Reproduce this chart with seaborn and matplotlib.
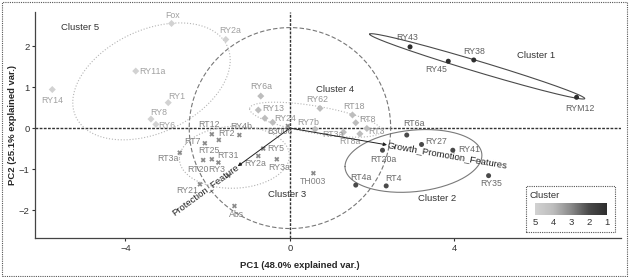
import numpy as np
import pandas as pd
import matplotlib
matplotlib.use('Agg')
import matplotlib.pyplot as plt
import matplotlib.font_manager as fm
import seaborn as sns
from matplotlib.colors import LinearSegmentedColormap
from matplotlib.patches import Rectangle

# PCA scores of the isolates and their k-means cluster
samples = ['RY43', 'RY45', 'RY38', 'RYM12',
           'RT6a', 'RY27', 'RY41', 'RT20a', 'RT4a', 'RT4', 'RY35',
           'RT12', 'RT2', 'RT7', 'RY4b', 'RT25', 'RT31', 'RT20', 'RY3', 'RY21', 'RT3a',
           'RY5', 'RY2a', 'RY3a', 'B3006', 'TH003', 'Abs',
           'RY6a', 'RY13', '', 'RY24', 'RY62', 'RY7b', 'RT18', 'RT8', 'RT3', 'RT3a', 'RT8a',
           'Fox', 'RY2a', 'RY11a', 'RY14', 'RY1', 'RY8', 'RY6']
pc1 = [2.92, 3.85, 4.47, 6.97,
       2.84, 3.20, 3.96, 2.25, 1.60, 2.34, 4.83,
       -1.90, -1.73, -2.07, -1.23, -1.90, -1.74, -2.11, -1.50, -2.19, -2.68,
       -0.65, -0.77, -0.32, -0.05, 0.57, -1.35,
       -0.71, -0.77, -0.61, -0.42, 0.73, 0.61, 1.52, 1.60, 1.87, 1.30, 1.70,
       -2.88, -1.56, -3.75, -5.78, -2.96, -3.38, -3.26]
pc2 = [1.98, 1.63, 1.66, 0.75,
       -0.17, -0.40, -0.54, -0.54, -1.39, -1.41, -1.16,
       -0.15, -0.29, -0.37, -0.17, -0.76, -0.84, -0.78, -1.16, -1.37, -0.60,
       -0.50, -0.68, -0.76, 0.05, -1.10, -1.90,
       0.78, 0.44, 0.24, 0.14, 0.48, -0.03, 0.32, 0.13, -0.01, -0.10, -0.14,
       2.55, 2.16, 1.39, 0.94, 0.62, 0.22, 0.09]
cluster = [1] * 4 + [2] * 7 + [3] * 16 + [4] * 11 + [5] * 7

# variable loadings (arrows)
variables = ['Protection_Feature', 'Growth_Promotion_Features']
var_pc1 = [-1.27, 2.36]
var_pc2 = [-0.93, -0.41]

cluster_ids = [1, 2, 3, 4, 5]
cluster_names = ['Cluster 1', 'Cluster 2', 'Cluster 3', 'Cluster 4', 'Cluster 5']

# label placement (pixels from the point) -- layout only
label_offsets = [(-3, 9), (-12, -8), (0, 8), (3, -11),
                 (7, 12), (15, 3), (16, 1), (1, -9), (5, 8), (7, 7), (3, -8),
                 (-3, 10), (8, 6), (-12, 2), (2, 9), (-3, 9), (10, 7), (-5, -9), (-12, 6), (-13, -6), (-12, -6),
                 (13, 0), (-3, -8), (2, -8), (-8, -5), (0, -8), (2, -8),
                 (0, 10), (15, 2), (0, 0), (12, 4), (-3, 9), (-7, 7), (2, 8), (12, 3), (10, -3), (-10, -2), (-10, -8),
                 (1, 8), (4, 9), (17, 0), (0, -11), (9, 6), (8, 7), (11, -1)]
cluster_text_pos = [(5.99, 1.76), (3.57, -1.71), (-0.08, -1.63), (1.10, 0.94), (-5.11, 2.46)]

point_colors = {1: '#2e2e2e', 2: '#4a4a4a', 3: '#8a8a8a', 4: '#bdbdbd', 5: '#d2d2d2'}
label_colors = {1: '#606060', 2: '#686868', 3: '#808080', 4: '#959595', 5: '#a0a0a0'}
markers = {1: 'o', 2: 'o', 3: 'X', 4: 'D', 5: 'D'}
ell_styles = {1: ('#4a4a4a', '-'), 2: ('#7a7a7a', '-'), 3: ('#b0b0b0', ':'),
              4: ('#b5b5b5', ':'), 5: ('#b5b5b5', ':')}
circle_radius = 2.45
ellipse_prob = 0.68

df = pd.DataFrame({'Sample': samples, 'PC1': pc1, 'PC2': pc2, 'Cluster': cluster})

sns.set_style('white')
installed = {f.name for f in fm.fontManager.ttflist}
if 'Liberation Sans Narrow' in installed:
    plt.rcParams['font.family'] = ['Liberation Sans Narrow', 'DejaVu Sans']
    fs_lab, fs_txt = 7, 7.5
else:
    plt.rcParams['font.family'] = ['Liberation Sans', 'DejaVu Sans']
    fs_lab, fs_txt = 6.3, 6.8

fig = plt.figure(figsize=(6.3, 2.77), dpi=100)
ax = fig.add_axes([35 / 630, 1 - 238 / 277, 586 / 630, 226 / 277])

# zero lines
ax.axhline(0, color='#333333', lw=1.0, ls=(0, (2, 1)), zorder=1)
ax.axvline(0, color='#333333', lw=1.0, ls=(0, (2, 1)), zorder=1)

# correlation circle
theta = np.linspace(-np.pi, np.pi, 200)
ax.plot(circle_radius * np.cos(theta), circle_radius * np.sin(theta),
        color='#777777', lw=0.8, ls=(0, (4, 2)), zorder=1)

# normal data ellipses per cluster (ggbiplot style)
ed = np.sqrt(-2 * np.log(1 - ellipse_prob))
circ = np.column_stack([np.cos(theta), np.sin(theta)])
for c in cluster_ids:
    sub = df[df['Cluster'] == c][['PC1', 'PC2']].values
    sigma = np.cov(sub.T)
    mu = sub.mean(axis=0)
    L = np.linalg.cholesky(sigma)
    ell = circ @ L.T * ed + mu
    col, ls = ell_styles[c]
    ax.plot(ell[:, 0], ell[:, 1], color=col, ls=ls, lw=0.8, zorder=2)

sns.scatterplot(data=df, x='PC1', y='PC2', hue='Cluster', palette=point_colors,
                style='Cluster', markers=markers, s=13, linewidth=0, legend=False,
                ax=ax, zorder=3)

for (name, x, y, c), (dx, dy) in zip(zip(samples, pc1, pc2, cluster), label_offsets):
    if not name:
        continue
    ax.annotate(name, (x, y), xytext=(dx, dy), textcoords='offset pixels',
                ha='center', va='center', fontsize=fs_lab, color=label_colors[c], zorder=4)

# loading arrows
for name, x, y in zip(variables, var_pc1, var_pc2):
    ax.annotate('', xy=(x, y), xytext=(0, 0),
                arrowprops=dict(arrowstyle='-|>', color='#222222', lw=0.7,
                                mutation_scale=5, shrinkA=0, shrinkB=0), zorder=4)
    ang = np.degrees(np.arctan(y / x))
    ax.text(x, y, name, rotation=ang, rotation_mode='anchor',
            ha='right' if x < 0 else 'left', va='center', fontsize=fs_txt,
            color='#222222', zorder=5)

for name, (x, y) in zip(cluster_names, cluster_text_pos):
    ax.text(x, y, name, ha='center', va='center', fontsize=fs_txt, color='#333333')

ax.set_xlim(-6.20, 8.05)
ax.set_ylim(-2.68, 2.83)
ax.set_xticks([-4, 0, 4])
ax.set_yticks([-2, -1, 0, 1, 2])
ax.tick_params(axis='both', labelsize=fs_txt, length=2.5, width=0.8, colors='#333333',
               direction='out', left=True, bottom=True, pad=1.5)
sns.despine(ax=ax)
for sp in ['left', 'bottom']:
    ax.spines[sp].set_color('#444444')
    ax.spines[sp].set_linewidth(0.9)
ax.set_xlabel('PC1 (48.0% explained var.)', fontsize=fs_txt, fontweight='bold')
ax.set_ylabel('PC2 (25.1% explained var.)', fontsize=fs_txt, fontweight='bold')
ax.xaxis.set_label_coords((300 - 35) / 586, -(261 - 238) / 226)
ax.yaxis.set_label_coords(-(35 - 17) / 586, 0.5)

# gradient legend
fig.patches.append(Rectangle((526 / 630, 1 - 232 / 277), 89 / 630, 46 / 277,
                             transform=fig.transFigure, fill=False, ec='#555555',
                             lw=0.8, ls=(0, (1, 1))))
fig.text(530 / 630, 1 - 196 / 277, 'Cluster', fontsize=fs_txt, color='#333333',
         ha='left', va='center')
cmap = LinearSegmentedColormap.from_list('clu', [point_colors[c] for c in cluster_ids])
lax = fig.add_axes([535 / 630, 1 - 215 / 277, 72 / 630, 12 / 277])
grad = np.linspace(5, 1, 256)[None, :]
lax.imshow(grad, extent=[5, 1, 0, 1], aspect='auto', cmap=cmap, vmin=1, vmax=5)
lax.set_xlim(5, 1)
lax.set_xticks(cluster_ids[::-1])
lax.set_xticklabels([str(c) for c in cluster_ids[::-1]])
lax.set_yticks([])
lax.tick_params(axis='x', length=0, labelsize=fs_txt, colors='#333333', pad=2)
for sp in lax.spines.values():
    sp.set_visible(False)

# outer frame
fig.patches.append(Rectangle((0.003, 0.004), 0.993, 0.99, transform=fig.transFigure,
                             fill=False, ec='#555555', lw=0.8, ls=(0, (1, 1))))

fig.savefig('out.png', dpi=100)
